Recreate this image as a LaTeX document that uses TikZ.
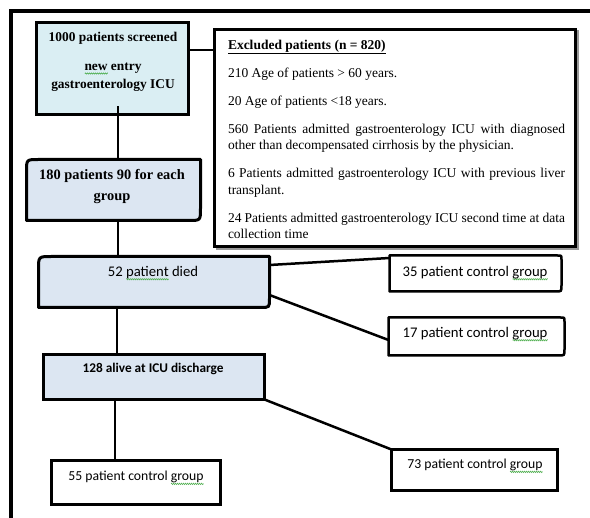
\documentclass[tikz,border=0pt]{standalone}
\usepackage{fontspec}
\setmainfont{Liberation Serif}
\newfontfamily\calfont{Carlito}
\usetikzlibrary{calc,decorations.pathmorphing}
\definecolor{aqua}{RGB}{218,238,243}
\definecolor{lblue}{RGB}{220,230,242}
\definecolor{sqgreen}{RGB}{70,170,70}
\newsavebox\sqbox
\newcommand\squig[1]{\sbox\sqbox{#1}\rlap{\tikz[baseline=0pt,x=1pt,y=1pt]\draw[sqgreen,line width=0.5pt,decorate,decoration={zigzag,amplitude=0.7pt,segment length=2pt}] (0pt,-3.2pt) -- (\the\wd\sqbox,-3.2pt);}\usebox\sqbox}
\newcommand\mybox[7]{%
  \filldraw[fill=#6, line width=#7]
  ($(#1.north west)+(0,#2)$) .. controls (#1.north west) .. ($(#1.north west)+(#2,0)$)
  -- ($(#1.north east)+(-#3,0)$) .. controls (#1.north east) .. ($(#1.north east)+(0,#3)$)
  -- ($(#1.south east)+(0,-#4)$) .. controls (#1.south east) .. ($(#1.south east)+(-#4,0)$)
  -- ($(#1.south west)+(#5,0)$) .. controls (#1.south west) .. ($(#1.south west)+(0,-#5)$)
  -- cycle;}
\begin{document}
\begin{tikzpicture}[x=1pt,y=-1pt,
  sq/.style={rectangle, inner sep=0pt, outer sep=0pt},
  txt/.style={inner sep=0pt, outer sep=0pt, align=center},
  conn/.style={line width=2pt},
  diag/.style={line width=2.5pt}]
\useasboundingbox (0,0) rectangle (590,518);
% frame
\draw[line width=3.5pt] (11,518) -- (11,11) -- (590,11);
% boxes
\node[sq, minimum width=152pt, minimum height=92pt, fill=aqua, draw, line width=3pt] (b1) at (112.5,68.5) {};
\node[sq, minimum width=361pt, minimum height=217pt, fill=white, draw, line width=2.5pt] (exc) at (395,138) {};
\draw[line width=1.6pt, black!40] ($(exc.north east)+(2.6,1)$) -- ($(exc.south east)+(2.6,2.6)$) -- ($(exc.south west)+(1,2.6)$);
\node[sq, minimum width=174pt, minimum height=61pt] (b2) at (113.5,190) {};
\mybox{b2}{12}{0.5}{12}{0.5}{lblue}{3pt}
\node[sq, minimum width=231pt, minimum height=51pt] (b3) at (154,282) {};
\mybox{b3}{13}{0.5}{9}{0.5}{lblue}{3pt}
\node[sq, minimum width=172pt, minimum height=36pt] (b35) at (475.5,273.5) {};
\mybox{b35}{0.5}{4}{6}{0.5}{white}{2.5pt}
\node[sq, minimum width=176pt, minimum height=38pt] (b17) at (476.5,336.5) {};
\mybox{b17}{0.5}{4}{6}{0.5}{white}{2.5pt}
\node[sq, minimum width=221pt, minimum height=45pt, fill=lblue, draw, line width=3.5pt] (b4) at (154,377) {};
\node[sq, minimum width=169pt, minimum height=44pt, fill=white, draw, line width=3.5pt] (b55) at (136,482.5) {};
\node[sq, minimum width=166pt, minimum height=41pt, fill=white, draw, line width=3.5pt] (b73) at (474.5,470) {};
% connectors
\draw[conn] ([yshift=18.5pt]b1.east) -- ([yshift=88pt]exc.west);
\draw[conn] ([xshift=5.5pt,yshift=8pt]b1.south) -- ([xshift=4.5pt]b2.north);
\draw[conn] ([xshift=4.5pt]b2.south) -- ([xshift=-36pt]b3.north);
\draw[conn] ([xshift=-37pt]b3.south) -- ([xshift=-37pt]b4.north);
\draw[conn] ([xshift=-39pt]b4.south) -- ([xshift=-21pt]b55.north);
\draw[diag] ([yshift=17pt]b3.east) -- ([yshift=15.5pt]b35.west);
\draw[diag] ([yshift=-13pt]b3.east) -- ([yshift=-3.5pt]b17.west);
\draw[diag] (b4.south east) -- (b73.north west);
% texts
\node[txt, font=\fontsize{13.4}{16}\selectfont\bfseries] (t1a) at (113,38) {1000 patients screened};
\node[txt, font=\fontsize{13.4}{18}\selectfont\bfseries] (t1b) at (113,77) {\squig{new} entry\\gastroenterology ICU};
\node[txt, font=\fontsize{14.4}{21}\selectfont\bfseries] (t2) at (112,186.5) {180 patients 90 for each\\group};
\node[inner sep=0pt, outer sep=0pt, anchor=north west, text width=337pt, align=justify,
  font=\fontsize{13.5}{16.5}\selectfont] (tex) at (228,40)
  {\setlength{\parskip}{11.5pt}\underline{\textbf{Excluded patients (n = 820)}}\par
   210 Age of patients > 60 years.\par
   20 Age of patients <18 years.\par
   560 Patients admitted gastroenterology ICU with diagnosed other than decompensated cirrhosis by the physician.\par
   6 Patients admitted gastroenterology ICU with previous liver transplant.\par
   24 Patients admitted gastroenterology ICU second time at data collection time};
\node[txt, font=\calfont\fontsize{14.7}{17}\selectfont] (t3) at (153,273) {52 \squig{patient} died};
\node[txt, font=\calfont\fontsize{13.3}{16}\selectfont\bfseries] (t4) at (153,369) {128 alive at ICU discharge};
\node[txt, font=\calfont\fontsize{14.7}{17}\selectfont] (t35) at (475,273) {35 patient control \squig{group}};
\node[txt, font=\calfont\fontsize{14.7}{17}\selectfont] (t17) at (475,334) {17 patient control \squig{group}};
\node[txt, font=\calfont\fontsize{13.7}{16}\selectfont] (t55) at (136,478) {55 patient control \squig{group}};
\node[txt, font=\calfont\fontsize{13.7}{16}\selectfont] (t73) at (475,466) {73 patient control \squig{group}};
\end{tikzpicture}
\end{document}
